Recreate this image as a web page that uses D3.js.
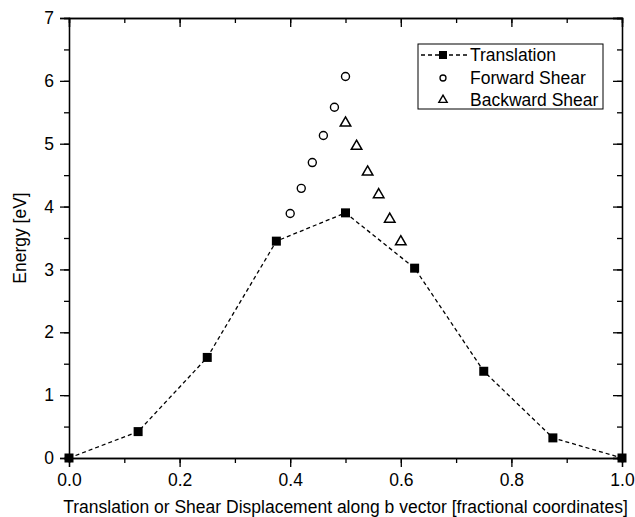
<!DOCTYPE html>
<html><head><meta charset="utf-8">
<script src="https://cdn.jsdelivr.net/npm/d3@7"></script>
<style>body{margin:0;background:#fff}svg{display:block}text{font-family:"Liberation Sans",Arial,sans-serif;fill:#000}</style>
</head><body><svg id="c" width="635" height="517"></svg>
<script>
const translationX = [0, 0.125, 0.25, 0.375, 0.5, 0.625, 0.75, 0.875, 1.0];
const translationY = [0, 0.42, 1.60, 3.45, 3.90, 3.02, 1.38, 0.32, 0];
const forwardX = [0.40, 0.42, 0.44, 0.46, 0.48, 0.50];
const forwardY = [3.89, 4.29, 4.70, 5.13, 5.58, 6.07];
const backwardX = [0.50, 0.52, 0.54, 0.56, 0.58, 0.60];
const backwardY = [5.33, 4.96, 4.55, 4.19, 3.80, 3.44];
const xTicks = [0, 0.2, 0.4, 0.6, 0.8, 1.0];
const yTicks = [0, 1, 2, 3, 4, 5, 6, 7];
const legendLabels = ["Translation", "Forward Shear", "Backward Shear"];

const FS = "17.5px";
const svg = d3.select("#c");
const L = 69, R = 622, T = 18, B = 458;
const x = d3.scaleLinear().domain([0, 1]).range([L, R]);
const y = d3.scaleLinear().domain([0, 7]).range([B, T]);

const xMinor = d3.range(0, 1.0001, 0.1);
const yMinor = d3.range(0, 7.0001, 0.5);

function styleAxis(g){ g.select(".domain").attr("stroke","#000").attr("stroke-width",1.3);
  g.selectAll(".tick line").attr("stroke","#000").attr("stroke-width",1.3);
  g.selectAll("text").style("font-size",FS).style("font-family","'Liberation Sans',Arial,sans-serif"); }

svg.append("g").attr("transform",`translate(0,${B})`)
  .call(d3.axisBottom(x).tickValues(xMinor).tickSize(5).tickFormat("")).call(styleAxis);
svg.append("g").attr("transform",`translate(${L},0)`)
  .call(d3.axisLeft(y).tickValues(yMinor).tickSize(5).tickFormat("")).call(styleAxis);
svg.append("g").attr("transform",`translate(0,${T})`)
  .call(d3.axisTop(x).tickValues(xMinor).tickSize(-5).tickFormat("")).call(styleAxis);
svg.append("g").attr("transform",`translate(${R},0)`)
  .call(d3.axisRight(y).tickValues(yMinor).tickSize(-5).tickFormat("")).call(styleAxis);
svg.append("g").attr("transform",`translate(0,${B})`)
  .call(d3.axisBottom(x).tickValues(xTicks).tickSize(9).tickPadding(7).tickFormat(d3.format(".1f"))).call(styleAxis);
svg.append("g").attr("transform",`translate(${L},0)`)
  .call(d3.axisLeft(y).tickValues(yTicks).tickSize(9).tickPadding(6).tickFormat(d3.format("d"))).call(styleAxis);
svg.append("g").attr("transform",`translate(0,${T})`)
  .call(d3.axisTop(x).tickValues(xTicks).tickSize(-9).tickFormat("")).call(styleAxis);
svg.append("g").attr("transform",`translate(${R},0)`)
  .call(d3.axisRight(y).tickValues(yTicks).tickSize(-9).tickFormat("")).call(styleAxis);

svg.append("text").attr("x",(L+R)/2).attr("y",512.5).attr("text-anchor","middle").style("font-size",FS)
  .text("Translation or Shear Displacement along b vector [fractional coordinates]");
svg.append("text").attr("transform",`translate(26,${(T+B)/2}) rotate(-90)`).attr("text-anchor","middle").style("font-size",FS)
  .text("Energy [eV]");

const tData = translationX.map((d,i)=>[d, translationY[i]]);
svg.append("path").datum(tData)
  .attr("d", d3.line().x(d=>x(d[0])).y(d=>y(d[1])))
  .attr("fill","none").attr("stroke","#000").attr("stroke-width",1.3).attr("stroke-dasharray","4,3");
svg.selectAll("rect.sq").data(tData).join("rect").attr("class","sq")
  .attr("x",d=>x(d[0])-4.5).attr("y",d=>y(d[1])-4.5).attr("width",9).attr("height",9).attr("fill","#000");

svg.selectAll("circle.fw").data(forwardX.map((d,i)=>[d,forwardY[i]])).join("circle").attr("class","fw")
  .attr("cx",d=>x(d[0])).attr("cy",d=>y(d[1])).attr("r",4).attr("fill","none").attr("stroke","#000").attr("stroke-width",1.4);

const tri = d3.symbol().type(d3.symbolTriangle).size(48);
svg.selectAll("path.bw").data(backwardX.map((d,i)=>[d,backwardY[i]])).join("path").attr("class","bw")
  .attr("transform",d=>`translate(${x(d[0])},${y(d[1])})`).attr("d",tri())
  .attr("fill","none").attr("stroke","#000").attr("stroke-width",1.5);

const lg = svg.append("g");
lg.append("rect").attr("x",418).attr("y",44).attr("width",185).attr("height",65)
  .attr("fill","#fff").attr("stroke","#000").attr("stroke-width",1);
const ly = [55, 78, 100];
lg.append("line").attr("x1",421).attr("x2",467).attr("y1",ly[0]).attr("y2",ly[0])
  .attr("stroke","#000").attr("stroke-width",1.3).attr("stroke-dasharray","4,3");
lg.append("rect").attr("x",443-4).attr("y",ly[0]-4).attr("width",8).attr("height",8).attr("fill","#000");
lg.append("circle").attr("cx",443).attr("cy",ly[1]).attr("r",3).attr("fill","none").attr("stroke","#000").attr("stroke-width",1.3);
lg.append("path").attr("transform",`translate(443,${ly[2]})`).attr("d",d3.symbol().type(d3.symbolTriangle).size(30)())
  .attr("fill","none").attr("stroke","#000").attr("stroke-width",1.4);
legendLabels.forEach((t,i)=>{
  lg.append("text").attr("x",470).attr("y",ly[i]+6).style("font-size",FS).text(t);
});
</script></body></html>
